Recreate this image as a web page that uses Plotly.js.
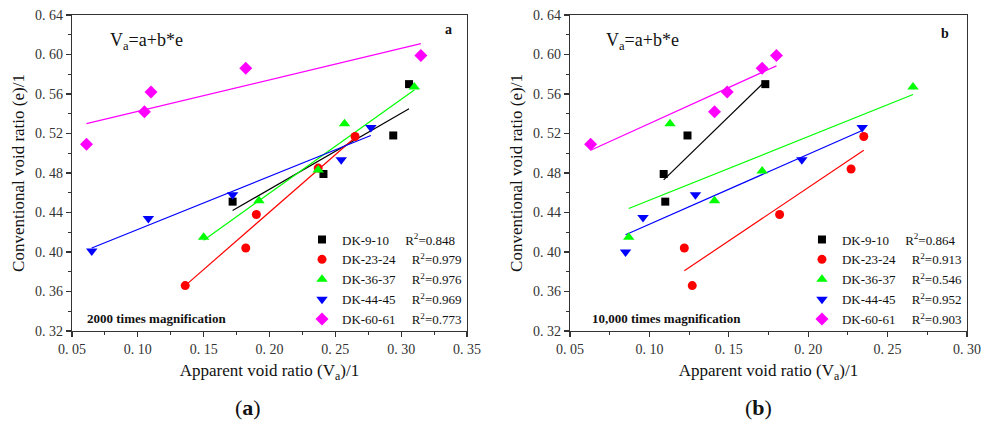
<!DOCTYPE html>
<html>
<head>
<meta charset="utf-8">
<script src="https://cdn.plot.ly/plotly-3.0.1.min.js"></script>
<style>html,body{margin:0;padding:0;background:#fff;}#chart{width:989px;height:423px;}</style>
</head>
<body>
<div id="chart"></div>
<script>
// ---- Data ----
const seriesNames = ['DK-9-10', 'DK-23-24', 'DK-36-37', 'DK-44-45', 'DK-60-61'];
const r2A = ['0.848', '0.979', '0.976', '0.969', '0.773'];
const r2B = ['0.864', '0.913', '0.546', '0.952', '0.903'];

// (a) 2000x: apparent void ratio Va vs conventional void ratio e
const a_va_9 = [0.172, 0.241, 0.294, 0.306];
const a_e_9 = [0.451, 0.479, 0.518, 0.570];
const a_va_23 = [0.136, 0.182, 0.190, 0.237, 0.265];
const a_e_23 = [0.366, 0.404, 0.438, 0.485, 0.517];
const a_va_36 = [0.150, 0.192, 0.237, 0.257, 0.310];
const a_e_36 = [0.415, 0.452, 0.483, 0.530, 0.567];
const a_va_44 = [0.065, 0.108, 0.172, 0.2545, 0.277];
const a_e_44 = [0.401, 0.434, 0.458, 0.4935, 0.526];
const a_va_60 = [0.061, 0.105, 0.110, 0.182, 0.315];
const a_e_60 = [0.509, 0.542, 0.562, 0.586, 0.599];

// (b) 10,000x
const b_va_9 = [0.110, 0.109, 0.124, 0.173];
const b_e_9 = [0.451, 0.479, 0.518, 0.570];
const b_va_23 = [0.127, 0.122, 0.182, 0.227, 0.235];
const b_e_23 = [0.366, 0.404, 0.438, 0.484, 0.517];
const b_va_36 = [0.087, 0.141, 0.171, 0.113, 0.266];
const b_e_36 = [0.415, 0.452, 0.482, 0.530, 0.567];
const b_va_44 = [0.085, 0.096, 0.129, 0.196, 0.234];
const b_e_44 = [0.400, 0.435, 0.458, 0.4935, 0.526];
const b_va_60 = [0.063, 0.141, 0.149, 0.171, 0.180];
const b_e_60 = [0.509, 0.542, 0.562, 0.586, 0.599];

// Fitted line endpoints
const a_fitX = [[0.172, 0.306], [0.136, 0.265], [0.150, 0.310], [0.065, 0.277], [0.061, 0.315]];
const a_fitY = [[0.442, 0.545], [0.366, 0.516], [0.412, 0.564], [0.404, 0.518], [0.530, 0.611]];
const b_fitX = [[0.109, 0.173], [0.122, 0.235], [0.087, 0.266], [0.085, 0.234], [0.063, 0.180]];
const b_fitY = [[0.473, 0.573], [0.381, 0.503], [0.444, 0.5595], [0.4175, 0.523], [0.503, 0.5885]];

// Tick labels
const yTickVals = [0.32, 0.36, 0.40, 0.44, 0.48, 0.52, 0.56, 0.60, 0.64];
const yTickText = ['0. 32', '0. 36', '0. 40', '0. 44', '0. 48', '0. 52', '0. 56', '0. 60', '0. 64'];
const xaTickVals = [0.05, 0.10, 0.15, 0.20, 0.25, 0.30, 0.35];
const xaTickText = ['0. 05', '0. 10', '0. 15', '0. 20', '0. 25', '0. 30', '0. 35'];
const xbTickVals = [0.05, 0.10, 0.15, 0.20, 0.25, 0.30];
const xbTickText = ['0. 05', '0. 10', '0. 15', '0. 20', '0. 25', '0. 30'];

// ---- Styles ----
const colors = ['#000000', '#ff0000', '#00ff00', '#0000ff', '#ff00ff'];
const symbols = ['square', 'circle', 'triangle-up', 'triangle-down', 'diamond'];
const sizes = [8, 9, 10, 10, 10];
const serif = 'Liberation Serif';

const aX = [a_va_9, a_va_23, a_va_36, a_va_44, a_va_60];
const aY = [a_e_9, a_e_23, a_e_36, a_e_44, a_e_60];
const bX = [b_va_9, b_va_23, b_va_36, b_va_44, b_va_60];
const bY = [b_e_9, b_e_23, b_e_36, b_e_44, b_e_60];

const NB = '\u00A0';
function legendName(i, r2) {
  return seriesNames[i] + NB.repeat(5) + 'R<sup>2</sup>=' + r2;
}

const traces = [];
for (let i = 0; i < 5; i++) {
  traces.push({
    x: a_fitX[i], y: a_fitY[i], xaxis: 'x', yaxis: 'y', mode: 'lines',
    line: {color: colors[i], width: 1.2}, showlegend: false, hoverinfo: 'skip'
  });
}
for (let i = 0; i < 5; i++) {
  traces.push({
    x: aX[i], y: aY[i], xaxis: 'x', yaxis: 'y', mode: 'markers', type: 'scatter',
    name: legendName(i, r2A[i]), legend: 'legend',
    marker: {color: colors[i], symbol: symbols[i], size: sizes[i], line: {width: 0}}
  });
}
for (let i = 0; i < 5; i++) {
  traces.push({
    x: b_fitX[i], y: b_fitY[i], xaxis: 'x2', yaxis: 'y2', mode: 'lines',
    line: {color: colors[i], width: 1.2}, showlegend: false, hoverinfo: 'skip'
  });
}
for (let i = 0; i < 5; i++) {
  traces.push({
    x: bX[i], y: bY[i], xaxis: 'x2', yaxis: 'y2', mode: 'markers', type: 'scatter',
    name: legendName(i, r2B[i]), legend: 'legend2',
    marker: {color: colors[i], symbol: symbols[i], size: sizes[i], line: {width: 0}}
  });
}

const axisCommon = {
  showgrid: false, zeroline: false, showline: true, mirror: true,
  linecolor: '#333', linewidth: 1.3, ticks: 'outside', ticklen: 5, tickwidth: 1.2,
  tickcolor: '#333', tickfont: {family: serif, size: 14, color: '#333'},
  tickmode: 'array', fixedrange: true
};

function xAxis(domain, range, vals, text, anchor) {
  return Object.assign({}, axisCommon, {
    domain: domain, range: range, anchor: anchor, tickvals: vals, ticktext: text,
    minor: {ticks: 'outside', ticklen: 3, tickwidth: 1, tickcolor: '#333', tickmode: 'linear', tick0: 0.05, dtick: 0.025, showgrid: false},
    title: {text: 'Apparent void ratio (V<sub>a</sub>)/1', font: {family: serif, size: 17, color: '#111'}, standoff: 8}
  });
}
function yAxis(anchor) {
  return Object.assign({}, axisCommon, {
    domain: [0, 1], range: [0.32, 0.64], anchor: anchor, tickvals: yTickVals, ticktext: yTickText,
    minor: {ticks: 'outside', ticklen: 3, tickwidth: 1, tickcolor: '#333', tickmode: 'linear', tick0: 0.32, dtick: 0.02, showgrid: false},
    title: {text: 'Conventional void ratio (e)/1', font: {family: serif, size: 17, color: '#111'}, standoff: 6}
  });
}

const legendCommon = {
  font: {family: serif, size: 13, color: '#111'}, bgcolor: 'rgba(0,0,0,0)',
  borderwidth: 0, xanchor: 'left', yanchor: 'top', tracegroupgap: 0, itemwidth: 30
};

const layout = {
  width: 989, height: 423,
  margin: {l: 72, r: 22, t: 15, b: 92},
  paper_bgcolor: '#fff', plot_bgcolor: '#fff',
  font: {family: serif},
  xaxis: xAxis([0, 0.4413], [0.05, 0.35], xaTickVals, xaTickText, 'y'),
  yaxis: yAxis('x'),
  xaxis2: xAxis([0.5564, 1], [0.05, 0.30], xbTickVals, xbTickText, 'y2'),
  yaxis2: yAxis('x2'),
  legend: Object.assign({}, legendCommon, {x: 0.257, y: 0.337}),
  legend2: Object.assign({}, legendCommon, {x: 0.8156, y: 0.337}),
  annotations: [
    {text: 'V<sub>a</sub>=a+b*e', xref: 'x domain', yref: 'y domain', x: 0.091, y: 0.915, xanchor: 'left', yanchor: 'middle', showarrow: false, font: {family: serif, size: 18, color: '#111'}},
    {text: 'V<sub>a</sub>=a+b*e', xref: 'x2 domain', yref: 'y2 domain', x: 0.0856, y: 0.915, xanchor: 'left', yanchor: 'middle', showarrow: false, font: {family: serif, size: 18, color: '#111'}},
    {text: '<b>a</b>', xref: 'x domain', yref: 'y domain', x: 0.954, y: 0.953, xanchor: 'center', yanchor: 'middle', showarrow: false, font: {family: serif, size: 14, color: '#111'}},
    {text: '<b>b</b>', xref: 'x2 domain', yref: 'y2 domain', x: 0.945, y: 0.943, xanchor: 'center', yanchor: 'middle', showarrow: false, font: {family: serif, size: 14, color: '#111'}},
    {text: '<b>2000 times magnification</b>', xref: 'x domain', yref: 'y domain', x: 0.033, y: 0.041, xanchor: 'left', yanchor: 'middle', showarrow: false, font: {family: serif, size: 13, color: '#111'}},
    {text: '<b>10,000 times magnification</b>', xref: 'x2 domain', yref: 'y2 domain', x: 0.05, y: 0.041, xanchor: 'left', yanchor: 'middle', showarrow: false, font: {family: serif, size: 13, color: '#111'}},
    {text: '(<b>a</b>)', xref: 'paper', yref: 'paper', x: (248 - 72) / 895, y: -(407 - 331) / 316, xanchor: 'center', yanchor: 'middle', showarrow: false, font: {family: serif, size: 22, color: '#111'}},
    {text: '(<b>b</b>)', xref: 'paper', yref: 'paper', x: (758 - 72) / 895, y: -(407 - 331) / 316, xanchor: 'center', yanchor: 'middle', showarrow: false, font: {family: serif, size: 22, color: '#111'}}
  ]
};

Plotly.newPlot('chart', traces, layout, {staticPlot: true, displayModeBar: false});
</script>
</body>
</html>
